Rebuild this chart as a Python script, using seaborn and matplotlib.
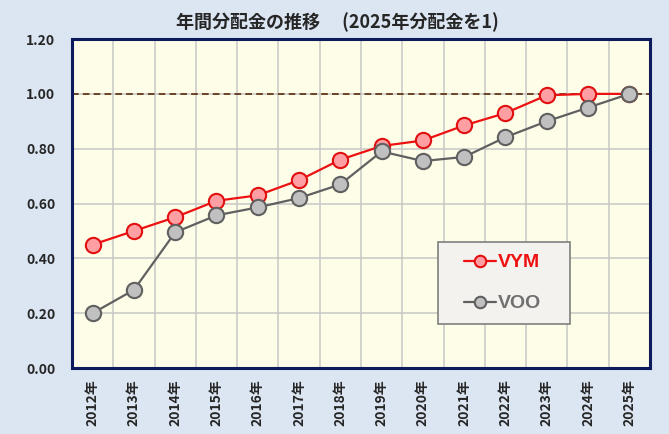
import pandas as pd
import matplotlib.pyplot as plt
import seaborn as sns
import numpy as np
from matplotlib.patches import Rectangle

# Data (dividends relative to 2025 = 1)
years = ['2012年', '2013年', '2014年', '2015年', '2016年', '2017年', '2018年',
         '2019年', '2020年', '2021年', '2022年', '2023年', '2024年', '2025年']
vym = [0.45, 0.50, 0.55, 0.61, 0.63, 0.685, 0.76, 0.81, 0.83, 0.885, 0.93, 0.995, 1.00, 1.00]
voo = [0.20, 0.285, 0.495, 0.557, 0.586, 0.62, 0.67, 0.79, 0.755, 0.77, 0.842, 0.90, 0.95, 1.00]
y_ticks = [0.0, 0.2, 0.4, 0.6, 0.8, 1.0, 1.2]

sns.set_theme(style='white')
plt.rcParams['font.family'] = ['Noto Sans CJK JP', 'DejaVu Sans']

df = pd.DataFrame({'year': years * 2,
                   'value': vym + voo,
                   'fund': ['VYM'] * len(years) + ['VOO'] * len(years)})

fig = plt.figure(figsize=(6.69, 4.34), dpi=100, facecolor='#dce6f2')
ax = fig.add_axes([0.1076, 0.152, 0.864, 0.758])
ax.set_facecolor('#fefde8')

styles = {'VYM': dict(color='#ee1111', mfc='#ff9fa3', mec='#e01010'),
          'VOO': dict(color='#606060', mfc='#c0c0c0', mec='#606060')}

# VOO sits on top of VYM in the original
for fund, z in [('VYM', 2), ('VOO', 3)]:
    s = styles[fund]
    sns.lineplot(data=df[df['fund'] == fund], x='year', y='value', ax=ax,
                 color=s['color'], linewidth=1.6, marker='o', markersize=11,
                 markerfacecolor=s['mfc'], markeredgecolor=s['mec'],
                 markeredgewidth=1.5, label=fund, zorder=z)

ax.axhline(1.0, color='#5a2a0a', linestyle='--', linewidth=1.2, dashes=(4, 2.5), zorder=1)

ax.set_xlim(-0.5, len(years) - 0.5)
ax.set_ylim(0, 1.2)
ax.set_yticks(y_ticks)
ax.set_yticklabels([f'{v:.2f}' for v in y_ticks], fontsize=10, fontweight='bold')
ax.set_xticks(range(len(years)))
ax.set_xticklabels(years, rotation=90, fontsize=10, fontweight='bold')
ax.set_xticks(np.arange(-0.5, len(years), 1), minor=True)
ax.tick_params(axis='y', length=0, pad=12)
ax.tick_params(axis='x', which='both', length=0, pad=8)
ax.grid(axis='y', which='major', color='#c8c8c8', linewidth=1.1)
ax.grid(axis='x', which='minor', color='#c8c8c8', linewidth=1.1)
ax.set_xlabel('')
ax.set_ylabel('')
for sp in ax.spines.values():
    sp.set_color('#0d1a5c')
    sp.set_linewidth(2.2)

# legend box
ax.add_patch(Rectangle((0.633, 0.134), 0.229, 0.249, transform=ax.transAxes,
                       facecolor='#f3f2ee', edgecolor='#7f7f7f', linewidth=1.2, zorder=4))
handles, labels = ax.get_legend_handles_labels()
order = [labels.index('VYM'), labels.index('VOO')]
leg = ax.legend([handles[i] for i in order], [labels[i] for i in order],
                loc='center', bbox_to_anchor=(0.745, 0.258), frameon=False,
                labelspacing=1.2, handlelength=1.6, handletextpad=0.1,
                borderaxespad=0, markerscale=0.75,
                prop={'weight': 'bold', 'size': 14, 'family': ['Liberation Sans']},
                labelcolor=['#ee1111', '#707070'])
leg.set_zorder(5)

fig.text(0.504, 0.948, '年間分配金の推移　 (2025年分配金を1)', ha='center', va='center',
         fontsize=13, fontweight='bold')

plt.savefig('out.png', dpi=100, facecolor=fig.get_facecolor())
